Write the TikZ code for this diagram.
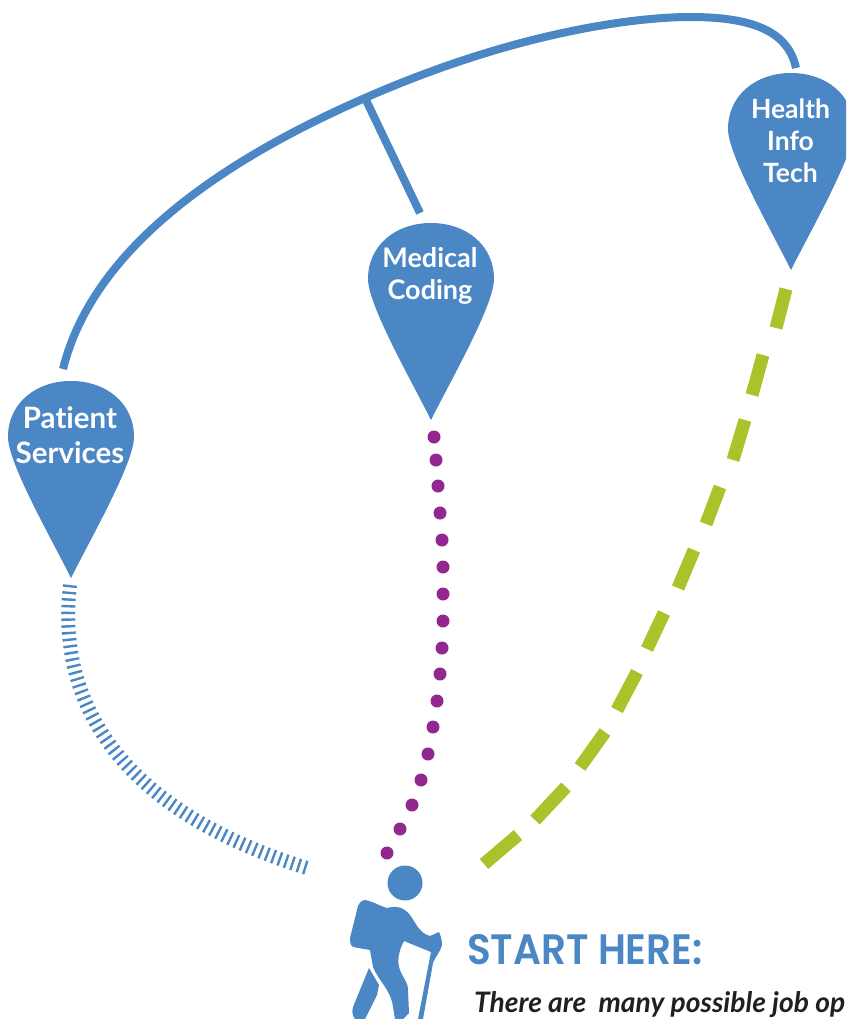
\documentclass[tikz,border=0pt]{standalone}
\usepackage{fontspec}
\setmainfont[Ligatures=NoCommon]{Lato}
\newfontfamily\startfont[FakeStretch=0.917]{Poppins SemiBold}
\definecolor{pinblue}{HTML}{4B86C5}
\definecolor{dotpurple}{HTML}{92278F}
\definecolor{dashgreen}{HTML}{A9C42B}
\definecolor{notegray}{HTML}{231F20}
\tikzset{
  pinshape/.pic={
    \fill[pinblue] (0,0) .. controls (-20,-40) and (-63,-115) .. (-63,-141)
      .. controls (-63,-175) and (-35,-197) .. (0,-197)
      .. controls (35,-197) and (63,-175) .. (63,-141)
      .. controls (63,-115) and (20,-40) .. (0,0) -- cycle;
  },
  pinlabel/.style={text=white,font=\bfseries\fontsize{#1}{32}\selectfont,align=center,inner sep=0pt},
  pathline/.style={draw=pinblue,line width=8pt},
}
\begin{document}
\begin{tikzpicture}[x=1pt,y=-1pt]
\useasboundingbox (0,0) rectangle (846,1019);
\clip (0,0) rectangle (846,1019);
%% pins
\pic at (71,578) {pinshape};
\pic at (431,420) {pinshape};
\pic at (791,270) {pinshape};
\node (patient) at (70,435) [pinlabel=29,font=\bfseries\fontsize{29.5}{35}\selectfont] {Patient\\Services};
\node (coding) at (430,276) [pinlabel=27] {Medical\\Coding};
\node (health) at (790.5,141) [pinlabel=26.5] {Health\\Info\\Tech};
%% blue route
\coordinate (patienttop) at (63,369);
\coordinate (codingtop) at (420,213);
\coordinate (healthtop) at (796,68);
\coordinate (branch) at (365,98);
\draw[pathline] (patienttop) .. controls (90,260) and (200,170) .. (branch)
  .. controls (520,30) and (640,17) .. (690,17)
  .. controls (750,17) and (788,30) .. (healthtop);
\draw[pathline] (branch) -- (codingtop);
%% hatched route
\coordinate (hatchstart) at (70,585);
\coordinate (hatchend) at (307,868);
\draw[draw=pinblue,line width=14pt,dash pattern=on 2.4pt off 4.3pt]
  (hatchstart) .. controls (55,715) and (135,815) .. (hatchend);
%% dotted route
\foreach \x/\y in {434/437, 436/460, 438/486, 440/513, 442/540, 443/567, 443/594, 443/621,
  442/648, 440/674, 437/701, 433/727, 428/754, 421/780, 412/805, 400/829, 387/853} {
  \fill[dotpurple] (\x,\y) circle (6.5);
}
%% dashed route
\foreach \xa/\ya/\xb/\yb in {786/289/776/328, 763/355/752/395, 745/420/733/460, 720/487/706/524,
  694/550/678/588, 664/613/647/649, 637/672/617/710, 605/732/580/767, 566/787/535/820, 518/835/484/864} {
  \draw[dashgreen,line width=13pt] (\xa,\ya) -- (\xb,\yb);
}
%% hiker
\fill[pinblue] (405,883) circle (17.5);
\fill[pinblue] (365,900) .. controls (372,901) and (380,906) .. (387,908)
  .. controls (395,906) and (403,906) .. (410,915)
  .. controls (416,923) and (419,933) .. (430,936)
  -- (439,932) .. controls (441,936) and (442,941) .. (442,945)
  .. controls (441,951) and (435,957) .. (433,963)
  -- (423,1019) -- (418,1019) -- (431,952) -- (404,941)
  .. controls (398,952) and (397,962) .. (400,970)
  .. controls (403,978) and (408,982) .. (408,990)
  -- (409,1013) -- (403,1019) -- (395,1019) -- (393,1007)
  .. controls (391,990) and (378,980) .. (373,967)
  -- (370,950) -- (353,947)
  .. controls (350,945) and (350,941) .. (350,938)
  -- (357,910) .. controls (358,904) and (361,900) .. (365,900) -- cycle;
\fill[pinblue] (369,968) -- (379,985) -- (377,995) -- (365,1019) -- (355,1019)
  .. controls (352,1015) and (352,1011) .. (353,1007) -- cycle;
%% captions
\node (starthere) at (467,950) [anchor=west,inner sep=0pt,text=pinblue,font=\startfont\fontsize{42.5}{42.5}\selectfont] {START HERE:};
\node (note) at (474,1005) [anchor=west,inner sep=0pt,text=notegray,font=\bfseries\itshape\fontsize{28.2}{28.2}\selectfont] {There are\ \ many possible job op};
\end{tikzpicture}
\end{document}
